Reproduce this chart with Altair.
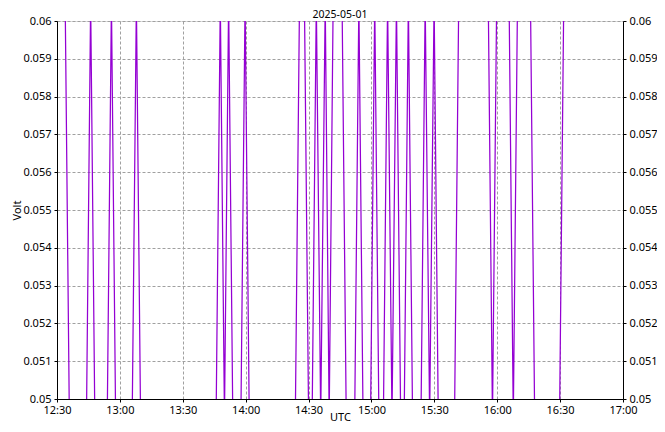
import altair as alt
import pandas as pd

TITLE = "2025-05-01"
X_TITLE = "UTC"
Y_TITLE = "Volt"

# sample times (UTC) and voltages
times = [
    "12:30:00", "12:33:54", "12:35:54",
    "12:44:03", "12:46:03", "12:48:03",
    "12:53:58", "12:55:58", "12:57:58",
    "13:05:52", "13:07:52", "13:09:52",
    "13:45:54", "13:47:54", "13:49:53", "13:51:52", "13:53:52",
    "13:57:43", "13:59:43", "14:01:43",
    "14:23:41", "14:25:41", "14:28:02", "14:30:02",
    "14:31:42", "14:33:42", "14:35:48", "14:37:57", "14:39:50", "14:41:44",
    "14:45:59", "14:47:59",
    "14:52:00", "14:54:00", "14:56:00",
    "14:59:34", "15:01:34", "15:03:34",
    "15:05:42", "15:07:42", "15:09:48", "15:11:56", "15:13:56",
    "15:15:37", "15:17:37", "15:19:37",
    "15:23:38", "15:25:38", "15:27:46", "15:29:53", "15:31:53",
    "15:39:38", "15:41:38",
    "15:55:44", "15:57:44", "15:59:44",
    "16:05:40", "16:07:40", "16:09:40",
    "16:15:52", "16:17:52",
    "16:29:44", "16:31:44",
    "17:00:00",
]
volts = [
    0.0605, 0.0605, 0.0495,
    0.0495, 0.0605, 0.0495,
    0.0495, 0.0605, 0.0495,
    0.0495, 0.0605, 0.0495,
    0.0495, 0.0605, 0.0495, 0.0605, 0.0495,
    0.0495, 0.0605, 0.0495,
    0.0495, 0.0605, 0.0605, 0.0495,
    0.0495, 0.0605, 0.0495, 0.0605, 0.0495, 0.0605,
    0.0605, 0.0495,
    0.0495, 0.0605, 0.0495,
    0.0495, 0.0605, 0.0495,
    0.0495, 0.0605, 0.0495, 0.0605, 0.0495,
    0.0495, 0.0605, 0.0495,
    0.0495, 0.0605, 0.0495, 0.0605, 0.0495,
    0.0495, 0.0605,
    0.0605, 0.0495, 0.0605,
    0.0605, 0.0495, 0.0605,
    0.0605, 0.0495,
    0.0495, 0.0605,
    0.0605,
]

x_tick_labels = ["12:30", "13:00", "13:30", "14:00", "14:30", "15:00",
                 "15:30", "16:00", "16:30", "17:00"]
y_ticks = [0.05, 0.051, 0.052, 0.053, 0.054, 0.055, 0.056, 0.057,
           0.058, 0.059, 0.06]


def to_min(hms):
    h, m, s = (int(v) for v in hms.split(":"))
    return h * 60 + m + s / 60.0


t0 = to_min(x_tick_labels[0] + ":00")
x_ticks = [to_min(l + ":00") - t0 for l in x_tick_labels]
x_max = x_ticks[-1]

df = pd.DataFrame({
    "min": [to_min(t) - t0 for t in times],
    "volt": volts,
    "order": list(range(len(times))),
})

FONT = "Noto Sans"
LABEL_SIZE = 11
PLOT_W = 566
PLOT_H = 378
label_expr = "[" + ",".join("'%s'" % l for l in x_tick_labels) + "][round(datum.value/30)]"

x_enc = alt.X(
    "min:Q",
    scale=alt.Scale(domain=[0, x_max], nice=False, zero=False),
    axis=alt.Axis(
        values=x_ticks, labelExpr=label_expr, title=X_TITLE,
        grid=True, gridColor="#a0a0a0", gridDash=[3, 2], gridWidth=1,
        tickSize=3, tickColor="black", domainColor="black",
        labelPadding=2, labelFont=FONT, labelFontSize=LABEL_SIZE,
        labelColor="black", titleFont=FONT, titleFontSize=LABEL_SIZE,
        titleFontWeight="normal", titleColor="black",
        titleX=PLOT_W / 2, titleY=12, titleAlign="center", titleBaseline="top",
        labelFlush=False,
    ),
)

y_scale = alt.Scale(domain=[y_ticks[0], y_ticks[-1]], nice=False, zero=False)

y_left = alt.Y(
    "volt:Q", scale=y_scale,
    axis=alt.Axis(
        values=y_ticks, format=".3~f", title=Y_TITLE, orient="left",
        grid=True, gridColor="#a0a0a0", gridDash=[3, 2], gridWidth=1,
        tickSize=3, tickColor="black", domainColor="black",
        labelPadding=3, labelFont=FONT, labelFontSize=LABEL_SIZE,
        labelColor="black", titleFont=FONT, titleFontSize=LABEL_SIZE,
        titleFontWeight="normal", titleColor="black",
        titleX=-37, titleY=PLOT_H / 2, titleAlign="center",
        titleBaseline="alphabetic", titleAngle=270,
    ),
)

y_right = alt.Y(
    "volt:Q", scale=y_scale,
    axis=alt.Axis(
        values=y_ticks, format=".3~f", title=None, orient="right",
        grid=False, tickSize=3, tickColor="black", domainColor="black",
        labelPadding=3, labelFont=FONT, labelFontSize=LABEL_SIZE,
        labelColor="black",
    ),
)

line = alt.Chart(df).mark_line(clip=True, color="#9400D3", strokeWidth=1.25).encode(
    x=x_enc, y=y_left, order="order:Q"
)
ghost = alt.Chart(df).mark_line(clip=True, strokeOpacity=0).encode(
    x=x_enc, y=y_right, order="order:Q"
)

chart = alt.layer(line, ghost).resolve_scale(y="independent").properties(
    width=PLOT_W,
    height=PLOT_H,
    title=alt.TitleParams(TITLE, font=FONT, fontSize=10.5, fontWeight="normal",
                          color="black", offset=4, dy=9),
    autosize=alt.AutoSizeParams(type="none"),
    padding={"left": 49, "top": 13, "right": 34, "bottom": 25},
).configure_view(stroke="black", strokeWidth=1).configure(background="white")

chart.save("out.html", embed_options={"renderer": "svg", "actions": False})
